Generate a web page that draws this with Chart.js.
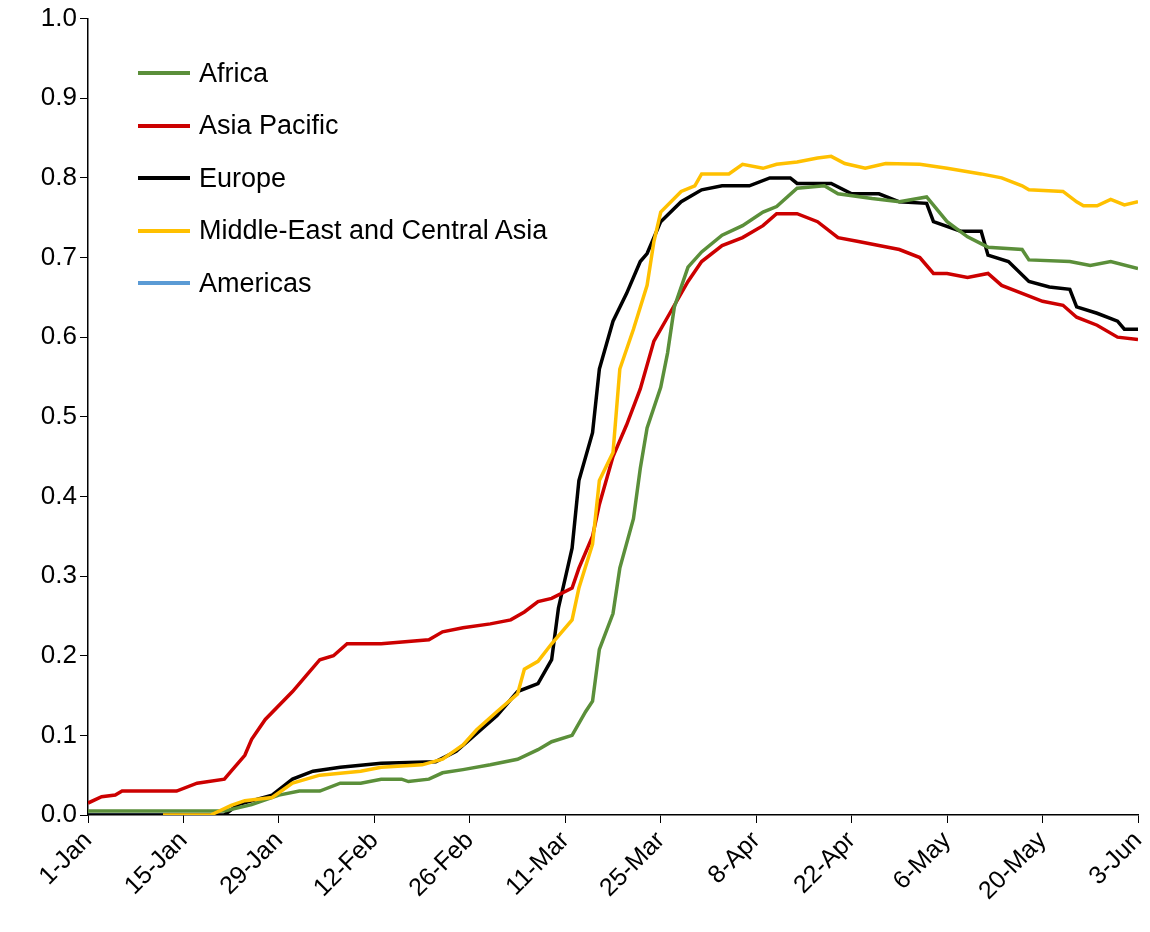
<!DOCTYPE html>
<html><head><meta charset="utf-8">
<script src="https://cdn.jsdelivr.net/npm/chart.js@4/dist/chart.umd.min.js"></script>
<style>
html,body{margin:0;padding:0;background:#fff;}
#wrap{position:relative;width:1150px;height:932px;}
#legend{position:absolute;left:138px;top:47px;font-family:"Liberation Sans",Arial,sans-serif;font-size:27px;color:#000;}
#legend div{height:52.5px;display:flex;align-items:center;}
#legend span.l{display:inline-block;width:52px;height:4px;margin-right:9px;}
</style></head><body>
<div id="wrap"><canvas id="c" width="1150" height="932"></canvas><div id="legend"></div></div>
<script>
const tickLabels=["1-Jan","15-Jan","29-Jan","12-Feb","26-Feb","11-Mar","25-Mar","8-Apr","22-Apr","6-May","20-May","3-Jun"];
const seriesNames=["Africa","Asia Pacific","Europe","Middle-East and Central Asia","Americas"];
const seriesColors=["#5b8f3a","#cc0000","#000000","#ffc000","#5b9bd5"];
const africaDays=[0,20,24,28,31,34,37,40,43,46,47,50,52,55,59,63,66,68,71,73,74,75,77,78,80,81,82,84,85,86,88,90,93,96,99,101,104,108,110,115,119,123,126,129,132,137,138,144,147,150,154];
const africaVals=[0.005,0.005,0.013,0.025,0.03,0.03,0.04,0.04,0.045,0.045,0.042,0.045,0.053,0.057,0.063,0.07,0.082,0.092,0.1,0.13,0.143,0.208,0.253,0.31,0.372,0.435,0.486,0.537,0.58,0.638,0.688,0.707,0.728,0.74,0.757,0.764,0.787,0.79,0.78,0.774,0.77,0.776,0.745,0.726,0.713,0.71,0.697,0.695,0.69,0.695,0.686];
const asiaDays=[0,2,4,5,13,16,20,21,23,24,26,30,32,34,36,38,43,50,52,55,59,62,64,66,68,71,72,74,75,77,79,81,83,85,88,90,93,96,99,101,104,107,110,113,116,119,122,124,126,129,132,134,137,140,143,145,148,151,154];
const asiaVals=[0.015,0.023,0.025,0.03,0.03,0.04,0.045,0.055,0.075,0.095,0.12,0.155,0.175,0.195,0.2,0.215,0.215,0.22,0.23,0.235,0.24,0.245,0.255,0.268,0.272,0.285,0.31,0.35,0.39,0.45,0.49,0.535,0.595,0.625,0.67,0.695,0.715,0.725,0.74,0.755,0.755,0.745,0.725,0.72,0.715,0.71,0.7,0.68,0.68,0.675,0.68,0.665,0.655,0.645,0.64,0.625,0.615,0.6,0.597];
const europeDays=[0,20,22,27,30,33,37,43,51,54,56,58,60,63,66,68,69,71,72,74,75,77,79,81,82,84,87,90,93,97,100,103,104,109,112,116,119,123,124,128,131,132,135,138,141,144,145,148,151,152,154];
const europeVals=[0,0,0.013,0.025,0.045,0.055,0.06,0.065,0.067,0.08,0.095,0.11,0.125,0.155,0.165,0.195,0.26,0.335,0.42,0.48,0.56,0.62,0.655,0.695,0.705,0.745,0.77,0.785,0.79,0.79,0.8,0.8,0.793,0.793,0.78,0.78,0.77,0.768,0.745,0.733,0.733,0.703,0.695,0.67,0.663,0.66,0.638,0.63,0.62,0.61,0.61];
const meDays=[11,18,21,23,27,30,34,40,43,49,52,55,57,60,63,64,66,68,71,72,74,75,77,78,80,82,83,84,87,89,90,94,96,99,101,104,107,109,111,114,117,122,126,131,134,137,138,143,145,146,148,150,152,154];
const meVals=[0,0,0.012,0.018,0.022,0.04,0.05,0.055,0.06,0.063,0.07,0.088,0.107,0.13,0.152,0.183,0.193,0.215,0.245,0.285,0.34,0.42,0.455,0.56,0.61,0.665,0.72,0.757,0.783,0.79,0.805,0.805,0.817,0.812,0.817,0.82,0.825,0.827,0.818,0.812,0.818,0.817,0.812,0.805,0.8,0.79,0.785,0.783,0.77,0.765,0.765,0.773,0.766,0.77];
const americasDays=[0,12];
const americasVals=[0,0];
function pts(d,v){return d.map((x,i)=>({x:x,y:v[i]}));}
const sets=[pts(africaDays,africaVals),pts(asiaDays,asiaVals),pts(europeDays,europeVals),pts(meDays,meVals),pts(americasDays,americasVals)];
const datasets=seriesNames.map((n,i)=>({label:n,data:sets[i],borderColor:seriesColors[i],backgroundColor:seriesColors[i],borderWidth:3.5,pointRadius:0,tension:0,order:[1,2,3,0,4][i]}));
const lg=document.getElementById('legend');
seriesNames.forEach((n,i)=>{const d=document.createElement('div');d.innerHTML='<span class="l" style="background:'+seriesColors[i]+'"></span>'+n;lg.appendChild(d);});
new Chart(document.getElementById('c'),{type:'line',data:{datasets:datasets},
options:{responsive:false,animation:false,layout:{padding:{top:18,right:0,left:0,bottom:0}},
plugins:{legend:{display:false},tooltip:{enabled:false}},
scales:{
x:{type:'linear',min:0,max:154,afterBuildTicks:a=>{a.ticks=tickLabels.map((t,i)=>({value:i*14}));},
afterFit:s=>{s.height=117;s.paddingRight=12;},
ticks:{maxRotation:45,minRotation:45,color:'#000',font:{family:'"Liberation Sans",Arial',size:25},callback:(v)=>tickLabels[Math.round(v/14)]},
grid:{drawOnChartArea:false,color:'#000',tickLength:8},border:{color:'#000',width:1.5}},
y:{min:0,max:1,afterFit:s=>{s.width=88;},ticks:{stepSize:0.1,color:'#000',font:{family:'"Liberation Sans",Arial',size:26},callback:v=>v.toFixed(1)},
grid:{drawOnChartArea:false,color:'#000',tickLength:8},border:{color:'#000',width:1.5}}}}});
</script></body></html>
